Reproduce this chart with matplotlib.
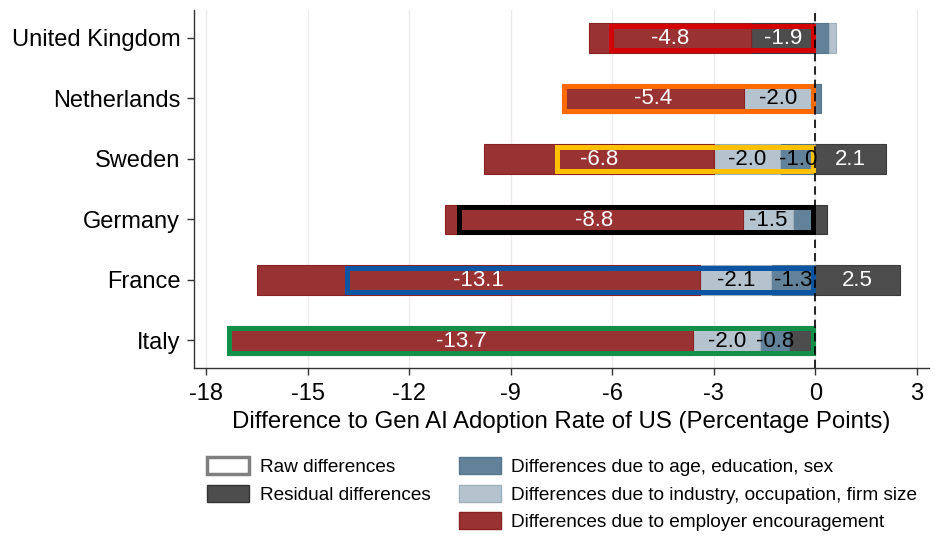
import matplotlib
matplotlib.use("Agg")
import matplotlib.pyplot as plt
from matplotlib.patches import Rectangle, Patch
import numpy as np

plt.rcParams['font.family'] = ['Liberation Sans', 'DejaVu Sans']

countries = ["United Kingdom", "Netherlands", "Sweden", "Germany", "France", "Italy"]
raw_diff = [-6.1, -7.5, -7.7, -10.6, -13.9, -17.4]
residual = [-1.9, -0.1, 2.1, 0.35, 2.5, -0.78]
age_edu_sex = [0.4, 0.17, -1.04, -0.65, -1.3, -0.84]
industry_occ = [0.2, -2.0, -1.96, -1.5, -2.1, -2.0]
employer = [-4.8, -5.4, -6.8, -8.8, -13.1, -13.7]
xticks = [-18, -15, -12, -9, -6, -3, 0, 3]

raw_colors = ["#d20000", "#ff6a00", "#ffc000", "#000000", "#0b55a3", "#12904a"]
seg_colors = {"res": "#4d4d4d", "age": "#62829a", "ind": "#b4c3ce", "emp": "#993333"}
seg_edges = {"res": "#3a3a3a", "age": "#56768e", "ind": "#9fb0bd", "emp": "#8a2020"}
seg_text = {"res": "white", "age": "black", "ind": "black", "emp": "white"}

fig = plt.figure(figsize=(9.47, 5.36), dpi=100)
ax = fig.add_axes([0.2049, 0.3134, 0.981 - 0.2049, 0.9813 - 0.3134])
ax.set_xlim(-18.36, 3.36)
ax.set_ylim(5.455, -0.46)

bar_h = 0.49
ypos = np.arange(len(countries))

for x in xticks:
    ax.axvline(x, color="#ebebeb", lw=1.0, zorder=0)

series = [("res", residual), ("age", age_edu_sex), ("ind", industry_occ), ("emp", employer)]
for i, y in enumerate(ypos):
    pos_base = 0.0
    neg_base = 0.0
    for key, vals in series:
        v = vals[i]
        if v >= 0:
            left = pos_base
            pos_base += v
        else:
            left = neg_base + v
            neg_base += v
        ax.barh(y, abs(v), left=left, height=bar_h, color=seg_colors[key],
                edgecolor=seg_edges[key], linewidth=0.8, zorder=2)
        if abs(v) >= 0.8:
            ax.text(left + abs(v) / 2, y + 0.01, f"{v:.1f}", ha="center", va="center",
                    fontsize=16, color=seg_text[key], zorder=5)

# raw difference boxes, stroke inset inside bar extent
fig.canvas.draw()
bb = ax.get_window_extent()
px_per_x = bb.width / (ax.get_xlim()[1] - ax.get_xlim()[0])
px_per_y = bb.height / abs(ax.get_ylim()[1] - ax.get_ylim()[0])
lw_px = 5.0
dx = lw_px / 2 / px_per_x
dy = lw_px / 2 / px_per_y
for i, y in enumerate(ypos):
    r = raw_diff[i]
    rect = Rectangle((r + dx, y - bar_h / 2 + dy), -r - 2 * dx, bar_h - 2 * dy,
                     fill=False, edgecolor=raw_colors[i], linewidth=lw_px * 72 / 100,
                     zorder=4, joinstyle="miter")
    ax.add_patch(rect)

ax.axvline(0, color="black", lw=1.2, ls=(0, (5, 3)), zorder=6)

ax.set_yticks(ypos)
ax.set_yticklabels(countries, fontsize=17)
ax.set_xticks(xticks)
ax.set_xticklabels([str(t) for t in xticks], fontsize=17)
ax.tick_params(axis="both", direction="out", length=5, width=1, color="#333333")
ax.tick_params(axis="x", pad=6)
ax.tick_params(axis="y", pad=5)
for s in ["top", "right"]:
    ax.spines[s].set_visible(False)
for s in ["left", "bottom"]:
    ax.spines[s].set_color("#333333")
    ax.spines[s].set_linewidth(1)
ax.set_xlabel("Difference to Gen AI Adoption Rate of US (Percentage Points)", fontsize=17.3, labelpad=4)

handles = [
    Patch(facecolor="white", edgecolor="#808080", linewidth=2.5, label="Raw differences"),
    Patch(facecolor=seg_colors["res"], edgecolor="#333333", linewidth=1, label="Residual differences"),
    Patch(facecolor="none", edgecolor="none", label=""),
    Patch(facecolor=seg_colors["age"], edgecolor=seg_edges["age"], linewidth=1, label="Differences due to age, education, sex"),
    Patch(facecolor=seg_colors["ind"], edgecolor=seg_edges["ind"], linewidth=1, label="Differences due to industry, occupation, firm size"),
    Patch(facecolor=seg_colors["emp"], edgecolor=seg_edges["emp"], linewidth=1, label="Differences due to employer encouragement"),
]
leg = fig.legend(handles=handles, ncol=2, loc="upper left",
                 frameon=False, fontsize=13.7,
                 handlelength=2.2, handleheight=1.0, labelspacing=0.45,
                 columnspacing=1.5, handletextpad=0.55, borderpad=0, borderaxespad=0)
leg.set_bbox_to_anchor((0.219, 0.147), transform=fig.transFigure)

fig.savefig("out.png", dpi=100)
